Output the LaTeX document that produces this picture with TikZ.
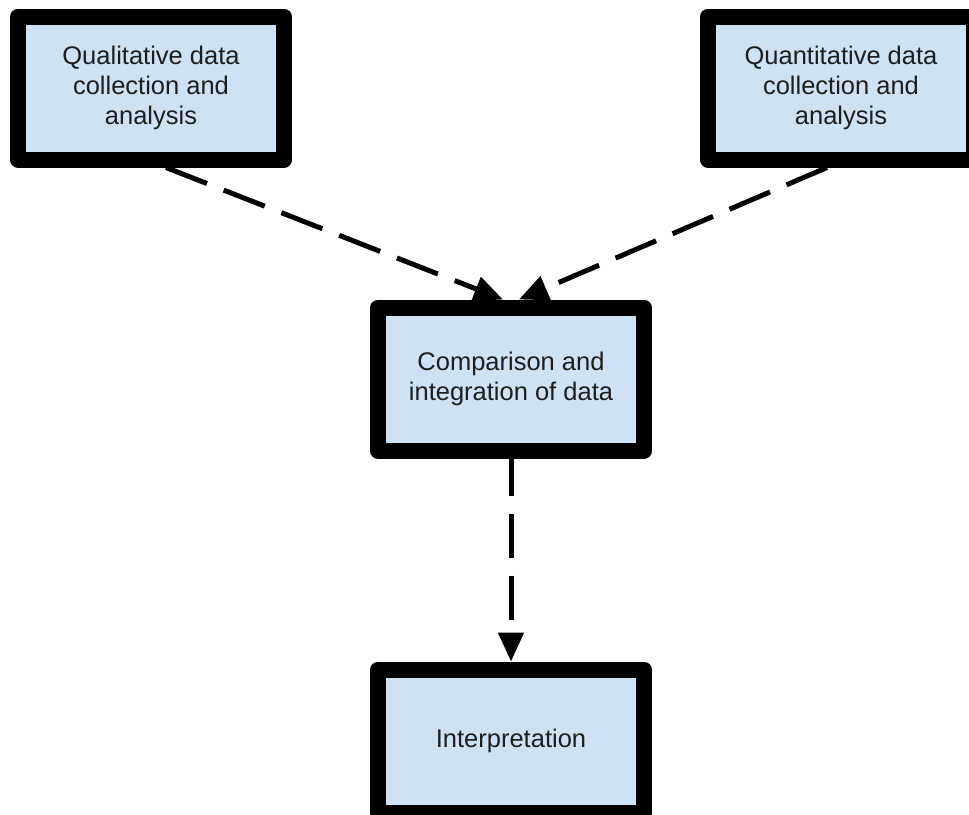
\documentclass[tikz,border=0pt]{standalone}
\usepackage{fontspec}
\setmainfont{Liberation Sans}
\usetikzlibrary{arrows.meta,calc}
\definecolor{boxfill}{HTML}{CFE2F3}
\definecolor{txt}{HTML}{1E1E1E}
\tikzset{
  stagebox/.style={draw=black, fill=boxfill, line width=16pt, line join=round,
    minimum width=266pt, minimum height=143pt, inner sep=0pt, align=center,
    text=txt, font=\fontsize{25.5pt}{30pt}\selectfont},
  dasharrow/.style={line width=5pt, dash pattern=on 44pt off 18pt,
    -{Triangle[length=29pt,width=25pt]}}
}
\begin{document}
\begin{tikzpicture}[x=1pt,y=-1pt]
\useasboundingbox (0,0) rectangle (969,814);
\clip (0,0) rectangle (969,814);
\node[stagebox] (qual) at (151,88) {Qualitative data\\collection and\\analysis};
\node[stagebox] (quan) at (841,88) {Quantitative data\\collection and\\analysis};
\node[stagebox] (comp) at (511,379) {Comparison and\\integration of data};
\node[stagebox] (interp) at (511,741) {Interpretation};
\draw[dasharrow] ($(qual.south)+(15,0)$) -- ($(comp.north)+(-8,0)$);
\draw[dasharrow] ($(quan.south)+(-14,0)$) -- ($(comp.north)+(8,0)$);
\draw[dasharrow, dash phase=7pt] (comp.south) -- (interp.north);
\end{tikzpicture}
\end{document}
